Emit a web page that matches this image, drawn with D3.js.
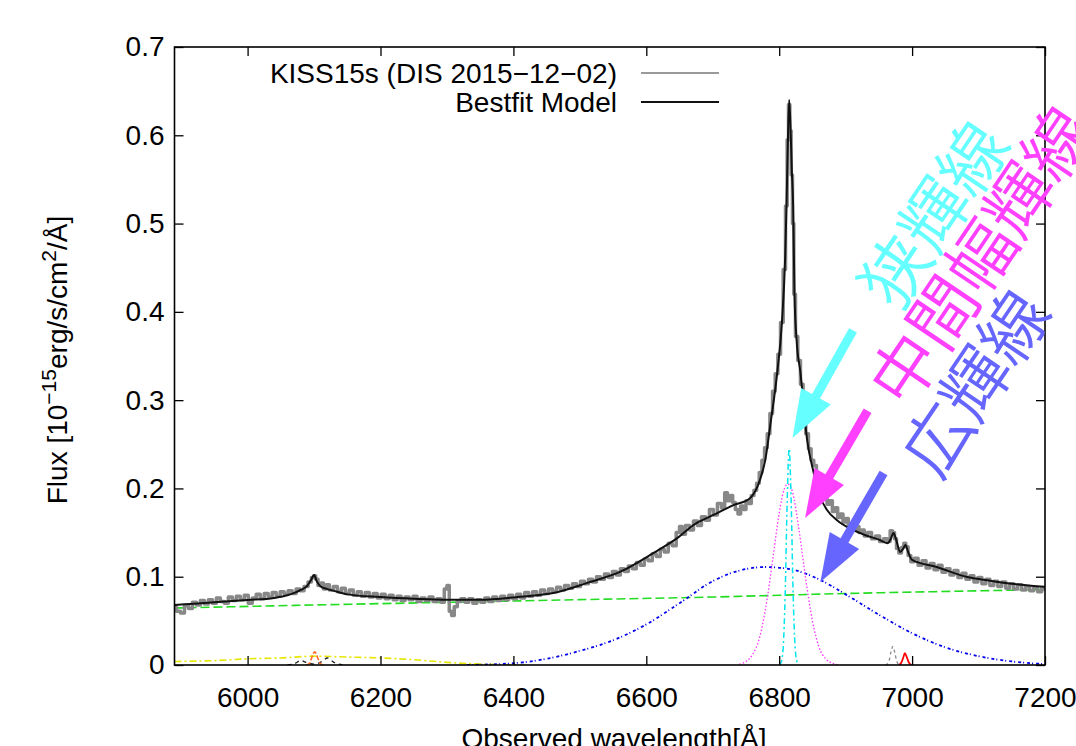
<!DOCTYPE html>
<html>
<head>
<meta charset="utf-8">
<script src="https://cdn.jsdelivr.net/npm/d3@7"></script>
<style>
  body { margin: 0; background: #fff; }
  svg { display: block; }
  text { font-family: "Liberation Sans", Arial, sans-serif; }
</style>
</head>
<body>
<div id="chart"></div>
<script>
// Size of the page and the plot frame
var w = 1076;
var h = 746;
var margin = {top: 47, right: 31, bottom: 81, left: 174.5};

// Axis ticks
var xTicks = [6000, 6200, 6400, 6600, 6800, 7000, 7200];
var xTickLabels = ["6000", "6200", "6400", "6600", "6800", "7000", "7200"];
var yTicks = [0, 0.1, 0.2, 0.3, 0.4, 0.5, 0.6, 0.7];
var yTickLabels = ["0", "0.1", "0.2", "0.3", "0.4", "0.5", "0.6", "0.7"];

// Observed spectrum [wavelength, flux]
var observed = [
  [5890,.066],[5896,.061],[5902,.059],[5908,.067],[5914,.064],[5920,.071],[5926,.068],[5932,.073],
  [5938,.069],[5944,.074],[5950,.070],[5956,.076],[5962,.072],[5968,.070],[5974,.077],[5980,.073],
  [5986,.078],[5992,.074],[5998,.079],[6004,.070],[6010,.076],[6016,.080],[6022,.075],[6028,.081],
  [6034,.077],[6040,.082],[6046,.078],[6052,.083],[6058,.080],[6064,.084],[6070,.081],[6076,.086],
  [6082,.084],[6088,.089],[6094,.094],[6098,.099],[6101,.101],[6104,.097],[6108,.090],[6112,.093],
  [6116,.086],[6120,.091],[6126,.085],[6132,.089],[6138,.083],[6144,.087],[6150,.081],[6156,.085],
  [6162,.079],[6168,.083],[6174,.078],[6180,.082],[6186,.077],[6192,.081],[6198,.076],[6204,.080],
  [6210,.075],[6216,.079],[6222,.074],[6228,.078],[6234,.073],[6240,.077],[6246,.074],[6252,.078],
  [6258,.072],[6264,.076],[6270,.073],[6276,.077],[6282,.072],[6288,.075],[6294,.071],[6298,.086],
  [6302,.090],[6305,.061],[6309,.056],[6313,.066],[6318,.072],[6324,.075],[6330,.071],[6336,.075],
  [6342,.070],[6348,.074],[6354,.071],[6360,.076],[6366,.072],[6372,.077],[6378,.073],[6384,.078],
  [6390,.074],[6396,.079],[6402,.075],[6408,.080],[6414,.076],[6420,.082],[6426,.078],[6432,.083],
  [6438,.079],[6444,.085],[6450,.081],[6456,.086],[6462,.083],[6468,.088],[6474,.085],[6480,.090],
  [6486,.087],[6492,.092],[6498,.089],[6504,.095],[6510,.092],[6516,.097],[6522,.094],[6528,.100],
  [6534,.097],[6540,.103],[6546,.099],[6552,.106],[6558,.102],[6564,.109],[6570,.106],[6576,.112],
  [6582,.109],[6588,.116],[6594,.113],[6600,.120],[6606,.118],[6612,.126],[6618,.123],[6624,.131],
  [6630,.128],[6636,.138],[6642,.135],[6648,.150],[6652,.157],[6656,.148],[6662,.158],[6668,.153],
  [6674,.163],[6680,.158],[6686,.168],[6692,.164],[6698,.176],[6704,.170],[6710,.183],[6716,.178],
  [6720,.195],[6724,.186],[6728,.192],[6732,.184],[6736,.176],[6740,.171],[6744,.180],[6748,.176],
  [6752,.186],[6756,.183],[6760,.192],[6764,.198],[6768,.206],[6772,.218],[6776,.232],[6780,.246],
  [6784,.262],[6788,.285],[6792,.310],[6796,.330],[6800,.352],[6804,.388],[6808,.448],[6811,.520],
  [6813,.595],[6815,.635],[6817,.605],[6819,.555],[6821,.500],[6823,.420],[6826,.372],[6830,.345],
  [6834,.318],[6838,.288],[6842,.262],[6846,.245],[6850,.232],[6854,.226],[6858,.214],[6862,.208],
  [6866,.196],[6870,.192],[6874,.182],[6878,.186],[6882,.174],[6886,.178],[6890,.167],[6894,.171],
  [6898,.162],[6902,.166],[6906,.157],[6910,.160],[6914,.153],[6918,.157],[6922,.150],[6926,.153],
  [6930,.146],[6936,.150],[6942,.143],[6948,.146],[6954,.140],[6960,.143],[6965,.140],[6969,.152],
  [6972,.150],[6975,.143],[6978,.132],[6982,.127],[6986,.133],[6989,.138],[6992,.134],[6996,.124],
  [7000,.117],[7006,.121],[7012,.113],[7018,.118],[7024,.110],[7030,.115],[7036,.108],[7042,.113],
  [7048,.105],[7054,.109],[7060,.102],[7066,.107],[7072,.099],[7078,.104],[7084,.097],[7090,.101],
  [7096,.094],[7102,.099],[7108,.092],[7114,.097],[7120,.090],[7126,.095],[7132,.089],[7138,.094],
  [7144,.087],[7150,.092],[7156,.086],[7162,.091],[7168,.085],[7174,.089],[7180,.084],[7186,.088],
  [7192,.083],[7198,.087],[7200,.086]
];

// Best fit model
var model = [
  [5890,.068],[5920,.0695],[5950,.071],[6000,.0736],[6040,.076],[6060,.079],[6080,.085],[6090,.090],
  [6096,.097],[6100,.102],[6104,.095],[6110,.089],[6120,.086],[6135,.083],[6150,.080],[6200,.077],
  [6250,.075],[6300,.0738],[6350,.0738],[6410,.0774],[6460,.0815],[6511,.093],[6561,.1057],[6611,.127],
  [6647,.144],[6671,.1586],[6701,.170],[6731,.181],[6756,.189],[6771,.2095],[6779,.232],[6787,.274],
  [6797,.331],[6804,.387],[6809,.462],[6811,.52],[6813,.59],[6815,.64],[6817,.61],[6819,.56],
  [6821,.52],[6823,.42],[6826,.37],[6832,.331],[6842,.255],[6852,.2175],[6862,.19],[6872,.1755],
  [6887,.164],[6911,.153],[6930,.147],[6950,.142],[6963,.138],[6968,.143],[6972,.1495],[6976,.142],
  [6982,.128],[6986,.131],[6990,.136],[6994,.128],[7000,.119],[7037,.111],[7083,.0997],[7113,.096],
  [7150,.092],[7200,.0885]
];

// Model components
var continuum = [[5890,.0645],[6100,.068],[6300,.071],[6500,.074],[6700,.077],[6900,.081],[7100,.084],[7200,.0855]];
var broadLine = [
  [6330,.000],[6400,.002],[6450,.007],[6500,.016],[6550,.028],[6600,.046],[6650,.070],[6700,.095],
  [6740,.107],[6780,.111],[6820,.108],[6860,.097],[6900,.080],[6950,.057],[7000,.036],[7050,.020],
  [7100,.010],[7150,.004],[7200,.001]
];
var intermediateLine = [
  [6740,.001],[6750,.004],[6760,.012],[6770,.030],[6780,.066],[6790,.118],[6800,.172],[6807,.198],
  [6813,.205],[6820,.196],[6830,.152],[6840,.097],[6850,.050],[6860,.020],[6870,.007],[6880,.002],[6890,0]
];
var narrowLine = [
  [6800,0],[6803,.003],[6806,.02],[6809,.08],[6812,.185],[6815,.245],[6818,.185],[6821,.08],
  [6824,.02],[6827,.003],[6830,0]
];
var feBlend = [[5890,.004],[5950,.005],[6000,.007],[6050,.008],[6100,.010],[6150,.009],[6200,.008],[6250,.006],[6300,.003],[6350,.001],[6420,0]];
var line6100 = [[6088,0],[6093,.002],[6096,.007],[6099,.013],[6101,.015],[6103,.013],[6106,.007],[6109,.002],[6114,0]];
var doublet6100 = [[6060,0],[6072,.002],[6080,.005],[6088,.003],[6100,.001],[6112,.004],[6120,.008],[6130,.003],[6145,0]];
var line6970 = [[6960,0],[6965,.004],[6968,.014],[6971,.021],[6974,.014],[6977,.004],[6981,0]];
var line6990 = [[6980,0],[6984,.003],[6987,.009],[6989,.0135],[6992,.009],[6995,.003],[6999,0]];

// Legend entries
var legendLabels = ["KISS15s (DIS 2015\u221212\u221202)", "Bestfit Model"];

// Annotations: label, colour, label centre and arrow tail/tip in data units
var notes = [
  {label: "狭輝線", color: "#66ffff", at: [7028, .513], tail: [6911, .379], tip: [6820, .257]},
  {label: "中間幅輝線", color: "#ff40ff", at: [7098, .466], tail: [6933, .288], tip: [6839, .1665]},
  {label: "広輝線", color: "#6666ff", at: [7090, .322], tail: [6957, .2175], tip: [6862, .094]}
];

var xScale = d3.scaleLinear()
    .domain([5890, 7200])
    .range([margin.left, w - margin.right]);

var yScale = d3.scaleLinear()
    .domain([0, 0.7])
    .range([h - margin.bottom, margin.top]);

var svg = d3.select("#chart")
    .append("svg")
    .attr("width", w)
    .attr("height", h);

svg.append("defs").append("clipPath")
    .attr("id", "plot")
    .append("rect")
    .attr("x", margin.left)
    .attr("y", margin.top)
    .attr("width", w - margin.right - margin.left)
    .attr("height", h - margin.bottom - margin.top);

var lines = [
  {data: feBlend, color: "#e6e600", width: 1.6, dash: "7,3,2,3"},
  {data: doublet6100, color: "#222", width: 1.4, dash: "4,4"},
  {data: line6100, color: "#ff6a2a", width: 1.6, dash: "5,2"},
  {data: line6970, color: "#888", width: 1.3, dash: "3,3"},
  {data: line6990, color: "#ff0000", width: 1.8, dash: null},
  {data: continuum, color: "#22dd22", width: 1.6, dash: "9,4"},
  {data: broadLine, color: "#0000ee", width: 1.8, dash: "3,2,1,3"},
  {data: intermediateLine, color: "#ff33ff", width: 1.3, dash: "1.5,2"},
  {data: narrowLine, color: "#00e5ee", width: 1.5, dash: "6,3,2,3"}
];

var line = d3.line()
    .x(function(d) { return xScale(d[0]); })
    .y(function(d) { return yScale(d[1]); })
    .curve(d3.curveMonotoneX);

var plot = svg.append("g").attr("clip-path", "url(#plot)");

plot.selectAll("path.comp")
    .data(lines)
    .enter()
    .append("path")
    .attr("class", "comp")
    .attr("d", function(d) { return line(d.data); })
    .attr("fill", "none")
    .attr("stroke", function(d) { return d.color; })
    .attr("stroke-width", function(d) { return d.width; })
    .attr("stroke-dasharray", function(d) { return d.dash; });

// Observed spectrum as a histogram-like step line
plot.append("path")
    .attr("d", line.curve(d3.curveStep)(observed))
    .attr("fill", "none")
    .attr("stroke", "#888")
    .attr("stroke-width", 3.5)
    .attr("stroke-linejoin", "round");

plot.append("path")
    .attr("d", line.curve(d3.curveMonotoneX)(model))
    .attr("fill", "none")
    .attr("stroke", "#111")
    .attr("stroke-width", 2);

// Axes with inward ticks on all four sides
var fontSize = 28;

svg.append("g")
    .attr("transform", "translate(0," + (h - margin.bottom) + ")")
    .call(d3.axisBottom(xScale).tickValues(xTicks).tickSize(-9).tickPadding(22)
        .tickFormat(function(d, i) { return xTickLabels[i]; }));

svg.append("g")
    .attr("transform", "translate(0," + margin.top + ")")
    .call(d3.axisTop(xScale).tickValues(xTicks).tickSize(-9).tickFormat(""));

svg.append("g")
    .attr("transform", "translate(" + margin.left + ",0)")
    .call(d3.axisLeft(yScale).tickValues(yTicks).tickSize(-9).tickPadding(10)
        .tickFormat(function(d, i) { return yTickLabels[i]; }));

svg.append("g")
    .attr("transform", "translate(" + (w - margin.right) + ",0)")
    .call(d3.axisRight(yScale).tickValues(yTicks).tickSize(-9).tickFormat(""));

svg.selectAll(".domain").remove();
svg.selectAll(".tick line").attr("stroke", "#000").attr("stroke-width", 1.3);
svg.selectAll(".tick text")
    .style("font-family", "'Liberation Sans', Arial, sans-serif")
    .style("font-size", fontSize + "px")
    .attr("fill", "#000");

svg.append("rect")
    .attr("x", margin.left)
    .attr("y", margin.top)
    .attr("width", w - margin.right - margin.left)
    .attr("height", h - margin.bottom - margin.top)
    .attr("fill", "none")
    .attr("stroke", "#000")
    .attr("stroke-width", 1.6);

// Axis titles (the x title runs off the bottom edge, as in the source)
svg.append("text")
    .attr("x", 614)
    .attr("y", 748)
    .attr("text-anchor", "middle")
    .style("font-size", fontSize + "px")
    .text("Observed wavelength[Å]");

var yTitle = svg.append("text")
    .attr("transform", "translate(67,360) rotate(-90)")
    .attr("text-anchor", "middle")
    .style("font-size", fontSize + "px");
yTitle.append("tspan").text("Flux [10");
yTitle.append("tspan").attr("dy", -11).style("font-size", "21px").text("\u221215");
yTitle.append("tspan").attr("dy", 11).text("erg/s/cm");
yTitle.append("tspan").attr("dy", -11).style("font-size", "21px").text("2");
yTitle.append("tspan").attr("dy", 11).text("/Å]");

// Legend
var legend = svg.selectAll(".legend-item")
    .data(legendLabels)
    .enter()
    .append("g")
    .attr("class", "legend-item")
    .attr("transform", function(d, i) { return "translate(0," + (73 + i * 29) + ")"; });

legend.append("text")
    .attr("x", 617)
    .attr("dy", "0.35em")
    .attr("text-anchor", "end")
    .style("font-size", fontSize + "px")
    .text(function(d) { return d; });

legend.append("line")
    .attr("x1", 641)
    .attr("x2", 719)
    .attr("stroke", function(d, i) { return i === 0 ? "#999" : "#111"; })
    .attr("stroke-width", 2);

// Annotations: rotated labels and arrows
var noteG = svg.selectAll(".note")
    .data(notes)
    .enter()
    .append("g")
    .attr("class", "note");

noteG.append("text")
    .attr("transform", function(d) {
        return "translate(" + xScale(d.at[0]) + "," + yScale(d.at[1]) + ") rotate(-56)";
    })
    .attr("text-anchor", "middle")
    .attr("dominant-baseline", "central")
    .style("font-family", "'Noto Sans CJK JP', sans-serif")
    .style("font-weight", 350)
    .style("font-size", "68px")
    .attr("fill", function(d) { return d.color; })
    .text(function(d) { return d.label; });

var headLen = 48, headHalf = 17;

noteG.each(function(d) {
    var g = d3.select(this);
    var x0 = xScale(d.tail[0]), y0 = yScale(d.tail[1]);
    var x1 = xScale(d.tip[0]), y1 = yScale(d.tip[1]);
    var dx = x1 - x0, dy = y1 - y0;
    var len = Math.sqrt(dx * dx + dy * dy);
    var ux = dx / len, uy = dy / len;
    var bx = x1 - ux * headLen, by = y1 - uy * headLen;
    g.append("line")
        .attr("x1", x0).attr("y1", y0)
        .attr("x2", bx + ux * 2).attr("y2", by + uy * 2)
        .attr("stroke", d.color)
        .attr("stroke-width", 9);
    g.append("path")
        .attr("d", "M" + x1 + "," + y1 +
            "L" + (bx - uy * headHalf) + "," + (by + ux * headHalf) +
            "L" + (bx + uy * headHalf) + "," + (by - ux * headHalf) + "Z")
        .attr("fill", d.color);
});
</script>
</body>
</html>
